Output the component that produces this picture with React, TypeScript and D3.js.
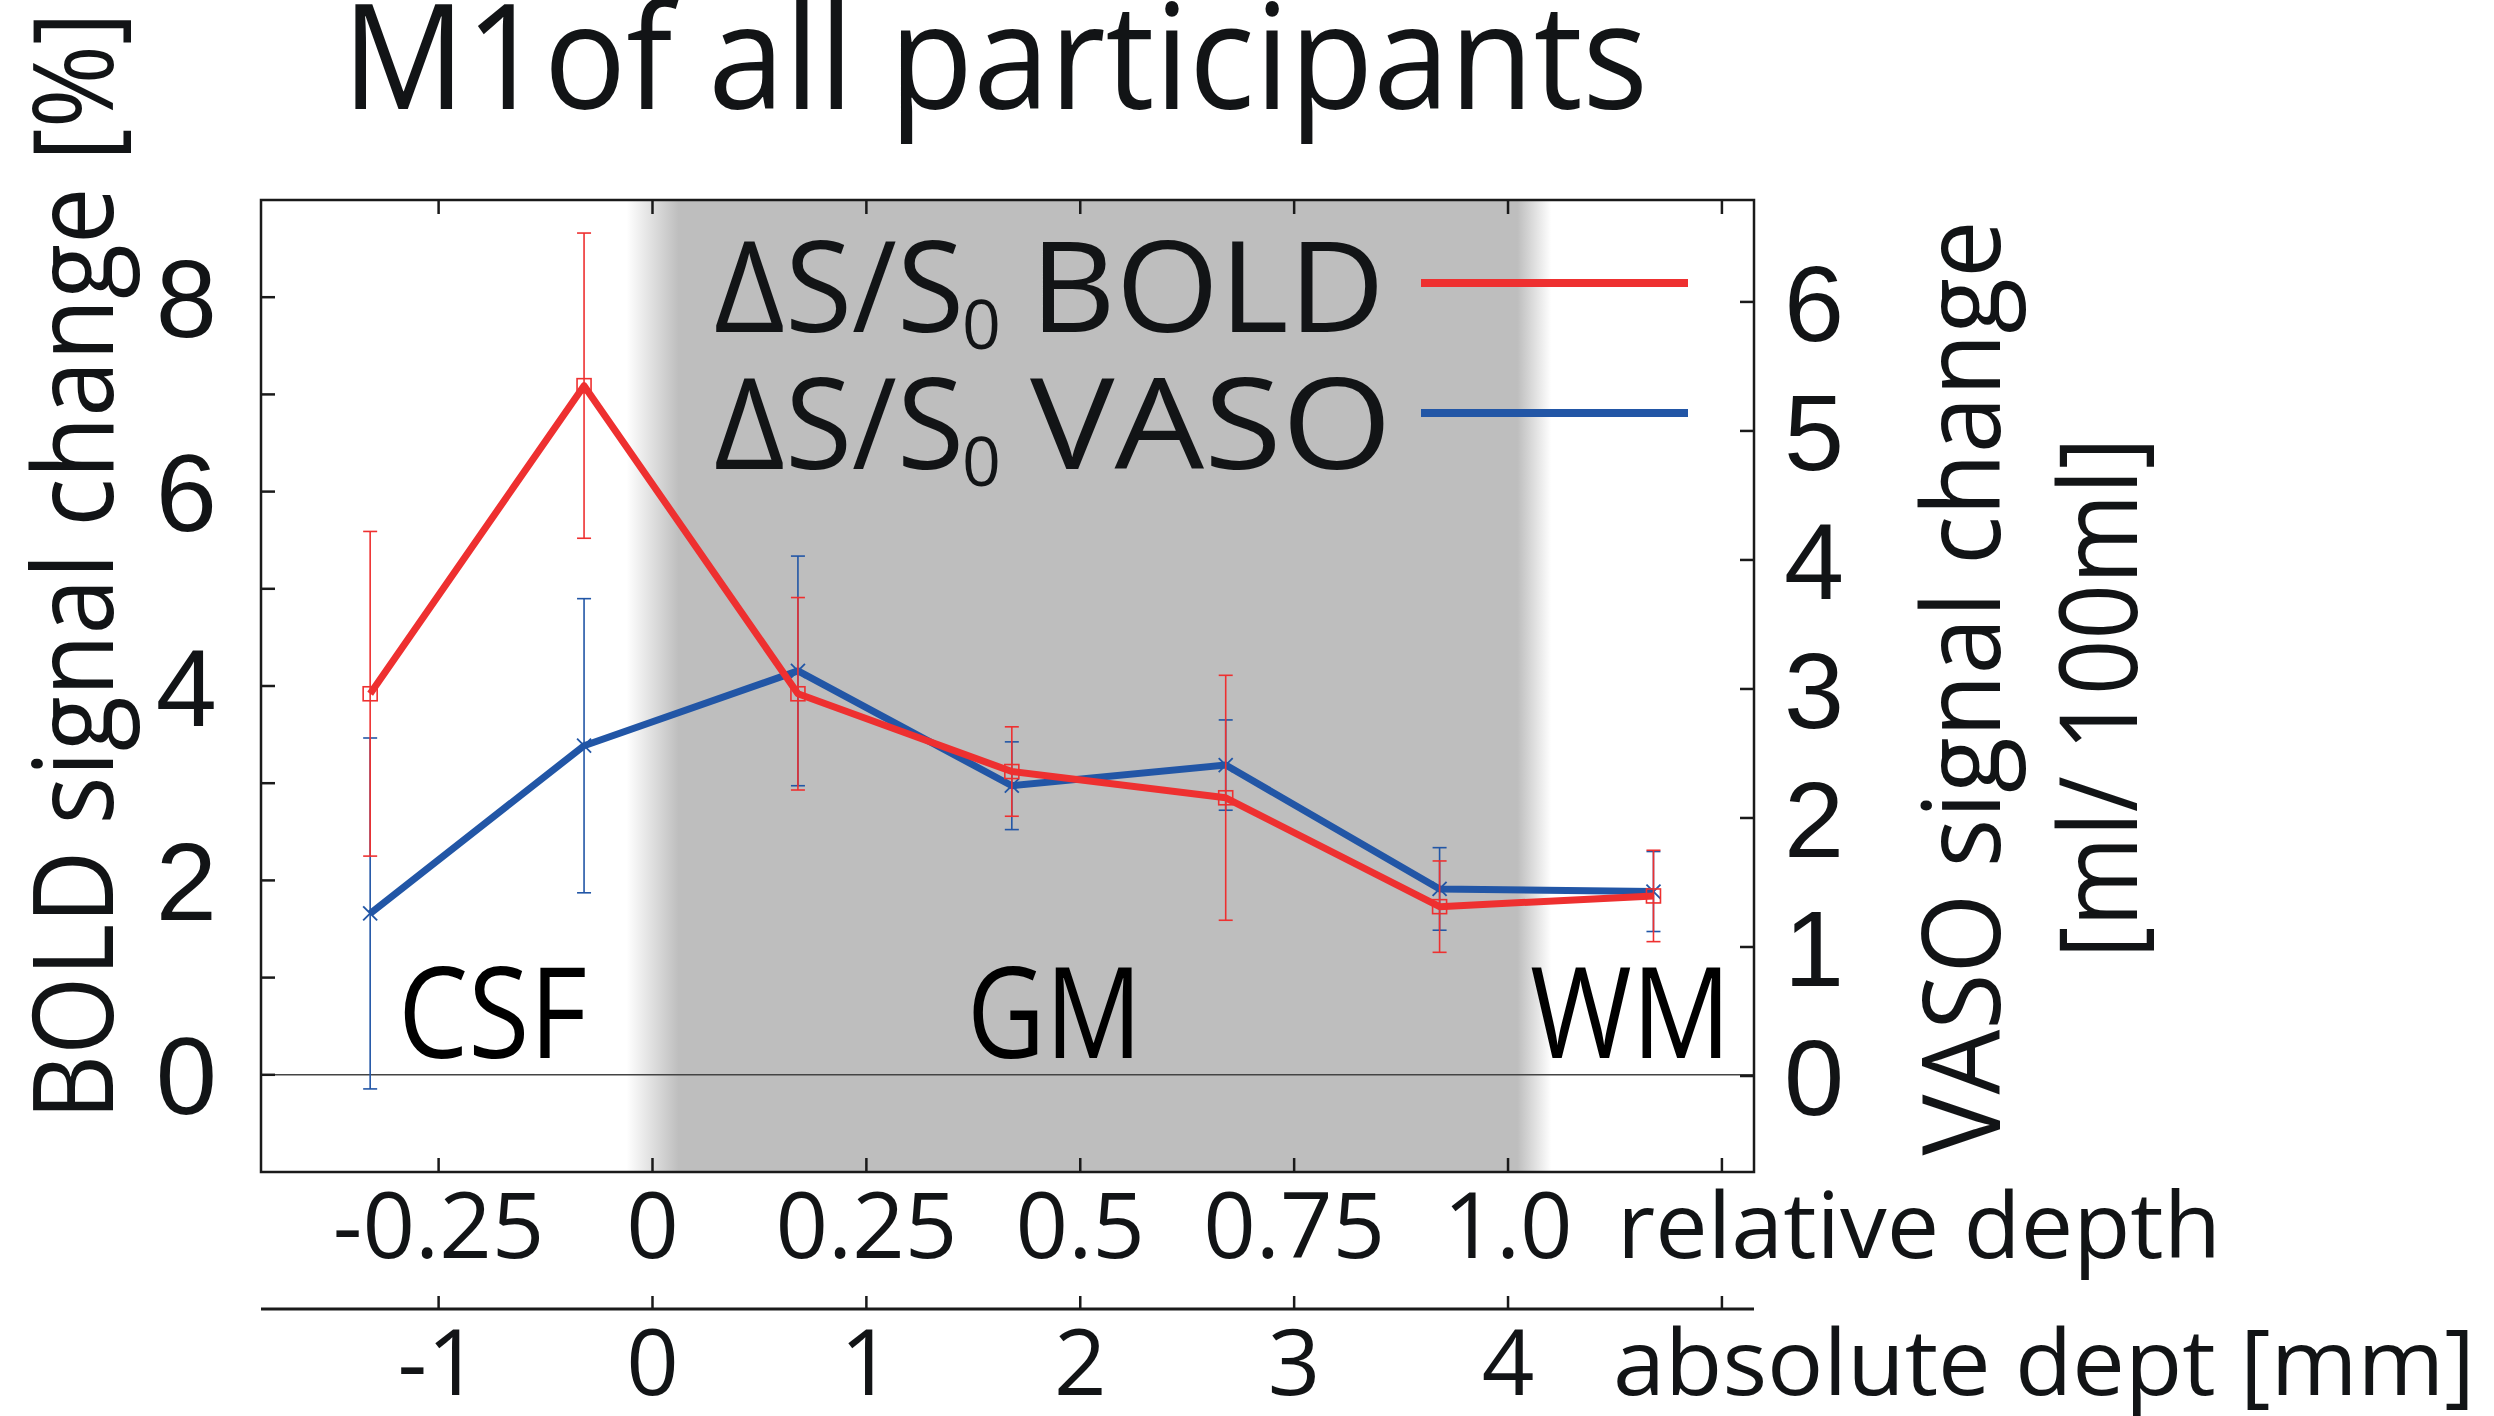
import React from "react";
import * as d3 from "d3";

// Layer centres along cortical depth (relative units, 0 = pial surface, 1 = WM border)
const depthRel = [-0.33, -0.08, 0.17, 0.42, 0.67, 0.92, 1.17];

// BOLD signal change [%] with error half-widths
const boldMean = [3.92, 7.09, 3.92, 3.12, 2.85, 1.73, 1.84];
const boldErr = [1.67, 1.57, 0.99, 0.46, 1.26, 0.47, 0.47];

// VASO signal change [ml/100ml] with error half-widths
const vasoMean = [1.26, 2.56, 3.14, 2.25, 2.41, 1.45, 1.43];
const vasoErr = [1.36, 1.14, 0.89, 0.34, 0.35, 0.32, 0.31];

// Axis ticks
const relTicks = [-0.25, 0, 0.25, 0.5, 0.75, 1.0, 1.25];
const relTickLabels = ["-0.25", "0", "0.25", "0.5", "0.75", "1.0", ""];
const absTicks = [-1, 0, 1, 2, 3, 4, 5];
const absTickLabels = ["-1", "0", "1", "2", "3", "4", ""];
const boldTicks = [0, 1, 2, 3, 4, 5, 6, 7, 8];
const boldTickLabels = ["0", "", "2", "", "4", "", "6", "", "8"];
const vasoTicks = [0, 1, 2, 3, 4, 5, 6];

// Tissue compartments and grey-matter extent (relative depth)
const regionNames = ["CSF", "GM", "WM"];
const gmBand = [0, 1.02];

const legendNames = ["BOLD", "VASO"];

const W = 2494;
const H = 1416;
const plot = { left: 261, right: 1754, top: 200, bottom: 1172 };

const RED = "#ee3030";
const BLUE = "#2256a6";
const INK = "#121416";
const SANS = "'Open Sans', 'Noto Sans', sans-serif";
const NUM = "'Liberation Sans', Arial, sans-serif";

const xRel = d3.scaleLinear().domain([-0.4576, 1.2875]).range([plot.left, plot.right]);
const xAbs = d3.scaleLinear().domain([-0.4576 * 4, 1.2875 * 4]).range([plot.left, plot.right]);
const yBold = d3.scaleLinear().domain([-1, 9]).range([plot.bottom, plot.top]);
const yVaso = d3.scaleLinear().domain([-0.744, 6.79]).range([plot.bottom, plot.top]);

function Series({ mean, err, y, color, marker }) {
  const pts = depthRel.map((d, i) => [xRel(d), y(mean[i])]);
  const line = d3.line()(pts);
  return (
    <g>
      {depthRel.map((d, i) => {
        const x = xRel(d);
        const y0 = y(mean[i] - err[i]);
        const y1 = y(mean[i] + err[i]);
        return (
          <g key={i} stroke={color} strokeWidth={1.6}>
            <line x1={x} x2={x} y1={y0} y2={y1} />
            <line x1={x - 7} x2={x + 7} y1={y0} y2={y0} />
            <line x1={x - 7} x2={x + 7} y1={y1} y2={y1} />
          </g>
        );
      })}
      <path d={line} fill="none" stroke={color} strokeWidth={7} strokeLinejoin="round" />
      {pts.map(([x, yy], i) =>
        marker === "square" ? (
          <rect key={i} x={x - 7} y={yy - 7} width={14} height={14} fill="none" stroke={color} strokeWidth={1.6} />
        ) : (
          <g key={i} stroke={color} strokeWidth={1.8}>
            <line x1={x - 7} x2={x + 7} y1={yy - 7} y2={yy + 7} />
            <line x1={x - 7} x2={x + 7} y1={yy + 7} y2={yy - 7} />
          </g>
        )
      )}
    </g>
  );
}

export default function App() {
  const gx0 = xRel(gmBand[0]);
  const gx1 = xRel(gmBand[1]);
  const fade = 26;
  const bx0 = gx0 - fade;
  const bx1 = gx1 + fade;
  const bw = bx1 - bx0;

  const regionX = [xRel(-0.2975), xRel(0.3676), xRel(1.0257)];
  const regionLen = [189, 175, 201];

  return (
    <svg
      width={W}
      height={H}
      viewBox={`0 0 ${W} ${H}`}
      style={{ position: "absolute", left: 0, top: 0, background: "#fff" }}
    >
      <defs>
        <linearGradient id="gmFade" gradientUnits="userSpaceOnUse" x1={bx0} x2={bx1} y1={0} y2={0}>
          <stop offset={0} stopColor="#bebebe" stopOpacity={0} />
          <stop offset={(2 * fade) / bw} stopColor="#bebebe" stopOpacity={1} />
          <stop offset={1 - (1.3 * fade) / bw} stopColor="#bebebe" stopOpacity={1} />
          <stop offset={1} stopColor="#bebebe" stopOpacity={0} />
        </linearGradient>
        <clipPath id="plotClip">
          <rect x={plot.left} y={plot.top} width={plot.right - plot.left} height={plot.bottom - plot.top} />
        </clipPath>
      </defs>

      {/* Title */}
      <text x={342} y={109} fontFamily={SANS} fontSize={147} fill={INK} textLength={1306} lengthAdjust="spacingAndGlyphs">
        M1of all participants
      </text>

      {/* Grey matter band */}
      <rect x={bx0} y={plot.top} width={bw} height={plot.bottom - plot.top} fill="url(#gmFade)" />

      {/* Zero line */}
      <line x1={plot.left} x2={plot.right} y1={yBold(0)} y2={yBold(0)} stroke="#444" strokeWidth={1.5} />

      {/* Legend */}
      {legendNames.map((name, i) => {
        const base = [332, 469][i];
        const ly = [283, 413][i];
        const col = i === 0 ? RED : BLUE;
        return (
          <g key={name}>
            <text x={714} y={base} fontFamily={SANS} fontSize={127} fill={INK} textLength={250} lengthAdjust="spacingAndGlyphs">
              ΔS/S
            </text>
            <text x={962} y={base + 17} fontFamily={SANS} fontSize={68} fill={INK}>
              0
            </text>
            <text x={i === 0 ? 1030 : 1030} y={base} fontFamily={SANS} fontSize={127} fill={INK} textLength={i === 0 ? 355 : 362} lengthAdjust="spacingAndGlyphs">
              {name}
            </text>
            <line x1={1421} x2={1688} y1={ly} y2={ly} stroke={col} strokeWidth={8} />
          </g>
        );
      })}

      {/* Region labels */}
      {regionNames.map((r, i) => (
        <text key={r} x={regionX[i]} y={1058} fontFamily={SANS} fontSize={127} fill="#000" textLength={regionLen[i]} lengthAdjust="spacingAndGlyphs">
          {r}
        </text>
      ))}

      {/* Data */}
      <g clipPath="url(#plotClip)">
        <Series mean={vasoMean} err={vasoErr} y={yVaso} color={BLUE} marker="x" />
        <Series mean={boldMean} err={boldErr} y={yBold} color={RED} marker="square" />
      </g>

      {/* Frame */}
      <rect
        x={plot.left}
        y={plot.top}
        width={plot.right - plot.left}
        height={plot.bottom - plot.top}
        fill="none"
        stroke="#1a1a1a"
        strokeWidth={2.5}
      />

      {/* Left axis ticks */}
      {boldTicks.map((t, i) => (
        <g key={t}>
          <line x1={plot.left} x2={plot.left + 14} y1={yBold(t)} y2={yBold(t)} stroke="#1a1a1a" strokeWidth={2.5} />
          {boldTickLabels[i] && (
            <text x={217} y={yBold(t)} dy="0.36em" textAnchor="end" fontFamily={NUM} fontSize={110} fill={INK}>
              {boldTickLabels[i]}
            </text>
          )}
        </g>
      ))}

      {/* Right axis ticks */}
      {vasoTicks.map((t) => (
        <g key={t}>
          <line x1={plot.right - 14} x2={plot.right} y1={yVaso(t)} y2={yVaso(t)} stroke="#1a1a1a" strokeWidth={2.5} />
          <text x={1784} y={yVaso(t)} dy="0.36em" textAnchor="start" fontFamily={NUM} fontSize={108} fill={INK}>
            {t}
          </text>
        </g>
      ))}

      {/* Relative depth ticks (bottom and top of frame) */}
      {relTicks.map((t, i) => (
        <g key={t}>
          <line x1={xRel(t)} x2={xRel(t)} y1={plot.bottom} y2={plot.bottom - 14} stroke="#1a1a1a" strokeWidth={2.5} />
          <line x1={xRel(t)} x2={xRel(t)} y1={plot.top} y2={plot.top + 14} stroke="#1a1a1a" strokeWidth={2.5} />
          {relTickLabels[i] && (
            <text x={xRel(t)} y={1258} textAnchor="middle" fontFamily={SANS} fontSize={92} fill={INK}>
              {relTickLabels[i]}
            </text>
          )}
        </g>
      ))}
      <text x={1617} y={1258} fontFamily={SANS} fontSize={92} fill={INK} textLength={604} lengthAdjust="spacingAndGlyphs">
        relative depth
      </text>

      {/* Absolute depth axis */}
      <line x1={plot.left} x2={plot.right} y1={1309} y2={1309} stroke="#1a1a1a" strokeWidth={3} />
      {absTicks.map((t, i) => (
        <g key={t}>
          <line x1={xAbs(t)} x2={xAbs(t)} y1={1309} y2={1296} stroke="#1a1a1a" strokeWidth={2.5} />
          {absTickLabels[i] && (
            <text x={xAbs(t)} y={1395} textAnchor="middle" fontFamily={SANS} fontSize={92} fill={INK}>
              {absTickLabels[i]}
            </text>
          )}
        </g>
      ))}
      <text x={1613} y={1395} fontFamily={SANS} fontSize={92} fill={INK} textLength={862} lengthAdjust="spacingAndGlyphs">
        absolute dept [mm]
      </text>

      {/* Axis titles */}
      <text
        transform="translate(113,566) rotate(-90)"
        textAnchor="middle"
        fontFamily={SANS}
        fontSize={112}
        fill={INK}
        textLength={1108}
        lengthAdjust="spacingAndGlyphs"
      >
        BOLD signal change [%]
      </text>
      <text
        transform="translate(2000,688) rotate(-90)"
        textAnchor="middle"
        fontFamily={SANS}
        fontSize={108}
        fill={INK}
        textLength={935}
        lengthAdjust="spacingAndGlyphs"
      >
        VASO signal change
      </text>
      <text
        transform="translate(2137,698) rotate(-90)"
        textAnchor="middle"
        fontFamily={SANS}
        fontSize={108}
        fill={INK}
        textLength={521}
        lengthAdjust="spacingAndGlyphs"
      >
        [ml/ 100ml]
      </text>
    </svg>
  );
}
